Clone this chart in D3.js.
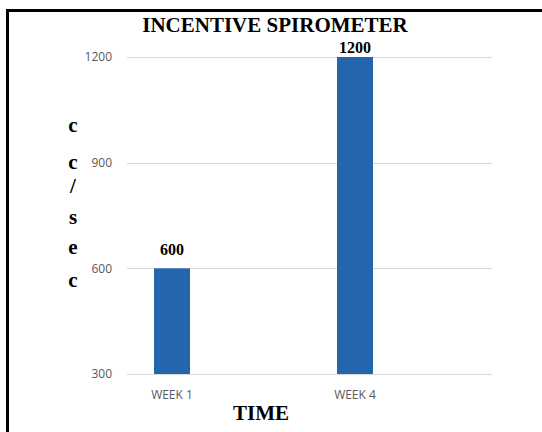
<!DOCTYPE html>
<html><head><meta charset="utf-8">
<script src="https://cdn.jsdelivr.net/npm/d3@7"></script>
<style>body{margin:0;background:#fff;} svg{display:block;}</style>
</head><body>
<script>
const categories = ["WEEK 1", "WEEK 4"];
const values = [600, 1200];
const yTicks = [300, 600, 900, 1200];
const title = "INCENTIVE SPIROMETER";
const yLabel = ["c", "c", "/", "s", "e", "c"];
const xLabel = "TIME";

const W = 542, H = 432;
const svg = d3.select("body").append("svg").attr("width", W).attr("height", H);
svg.append("rect").attr("width", W).attr("height", H).attr("fill", "#fff");

// border (top and left visible)
svg.append("line").attr("x1", 6).attr("x2", W).attr("y1", 10.5).attr("y2", 10.5).attr("stroke", "#000").attr("stroke-width", 3);
svg.append("line").attr("x1", 7.5).attr("x2", 7.5).attr("y1", 9).attr("y2", H).attr("stroke", "#000").attr("stroke-width", 3);

const plotL = 127, plotR = 492;
const y = d3.scaleLinear().domain([300, 1200]).range([374, 57]);
const x = d3.scalePoint().domain(categories).range([172, 355]);
const barW = 36;

// gridlines
svg.append("g").selectAll("line").data(yTicks).join("line")
  .attr("x1", plotL).attr("x2", plotR)
  .attr("y1", d => Math.round(y(d)) + 0.5).attr("y2", d => Math.round(y(d)) + 0.5)
  .attr("stroke", "#d9d9d9").attr("stroke-width", 1);

// y tick labels
svg.append("g").selectAll("text").data(yTicks).join("text")
  .attr("x", 112).attr("y", d => y(d)).attr("dy", "0.35em")
  .attr("text-anchor", "end").attr("fill", "#595959")
  .attr("font-family", "Open Sans, Liberation Sans, sans-serif").attr("font-size", 12)
  .text(d => d);

// bars
svg.append("g").selectAll("rect").data(values).join("rect")
  .attr("x", (d, i) => x(categories[i]) - barW / 2)
  .attr("width", barW)
  .attr("y", d => y(d))
  .attr("height", d => y(300) - y(d))
  .attr("fill", "#2465ad");

// value labels
svg.append("g").selectAll("text").data(values).join("text")
  .attr("x", (d, i) => x(categories[i]))
  .attr("y", d => Math.max(y(d) - 13, 53))
  .attr("text-anchor", "middle")
  .attr("font-family", "Liberation Serif, Times New Roman, serif")
  .attr("font-weight", "bold").attr("font-size", 16)
  .text(d => d);

// x category labels
svg.append("g").selectAll("text").data(categories).join("text")
  .attr("x", d => x(d)).attr("y", 395).attr("dy", "0.35em")
  .attr("text-anchor", "middle").attr("fill", "#595959")
  .attr("font-family", "Open Sans, Liberation Sans, sans-serif").attr("font-size", 12)
  .text(d => d);

// title
svg.append("text").attr("x", 275).attr("y", 32).attr("text-anchor", "middle")
  .attr("font-family", "Liberation Serif, Times New Roman, serif")
  .attr("font-weight", "bold").attr("font-size", 21).text(title);

// x axis title
svg.append("text").attr("x", 261).attr("y", 420).attr("text-anchor", "middle")
  .attr("font-family", "Liberation Serif, Times New Roman, serif")
  .attr("font-weight", "bold").attr("font-size", 21).text(xLabel);

// y axis title (stacked letters)
const yPos = [125, 162, 186, 217, 247, 280];
svg.append("g").selectAll("text").data(yLabel).join("text")
  .attr("x", 73).attr("y", (d, i) => yPos[i]).attr("dy", "0.32em")
  .attr("text-anchor", "middle")
  .attr("font-family", "Liberation Serif, Times New Roman, serif")
  .attr("font-weight", "bold").attr("font-size", 21)
  .text(d => d);
</script>
</body></html>
